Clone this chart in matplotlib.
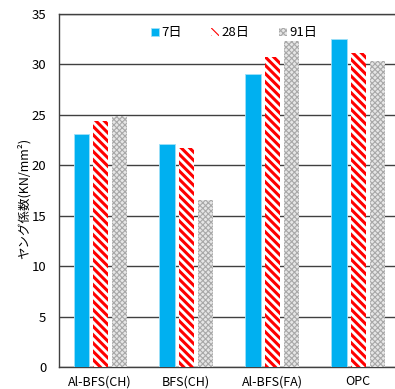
import matplotlib
matplotlib.use("Agg")
import matplotlib.pyplot as plt
import numpy as np

plt.rcParams['font.family'] = ['Noto Sans CJK JP', 'DejaVu Sans']
plt.rcParams['hatch.linewidth'] = 2.2

categories = ["Al-BFS(CH)", "BFS(CH)", "Al-BFS(FA)", "OPC"]
series_names = ["7日", "28日", "91日"]
day7 = [23.1, 22.1, 29.0, 32.5]
day28 = [24.4, 21.7, 30.7, 31.1]
day91 = [24.9, 16.5, 32.3, 30.3]
yticks = [0, 5, 10, 15, 20, 25, 30, 35]

fig = plt.figure(figsize=(3.95, 3.89), dpi=100)
ax = fig.add_axes([0.149, 0.0566, 0.862, 0.908])

x = np.arange(len(categories))
w = 0.175
step = 0.222

ax.bar(x - step, day7, w, color='#00b0f0', edgecolor='#9fe0f8', linewidth=0.6,
       label=series_names[0], zorder=3)
ax.bar(x, day28, w, facecolor='white', edgecolor='#ff0000', linewidth=0,
       hatch='\\\\\\\\', label=series_names[1], zorder=3)
plt.rcParams['hatch.linewidth'] = 0.8
ax.bar(x + step, day91, w, facecolor='#e6e6e6', edgecolor='#a8a8a8', linewidth=0,
       hatch='xxxxxx', label=series_names[2], zorder=3)

ax.set_xlim(-0.48, 3.48)
ax.set_ylim(0, 35)
ax.set_yticks(yticks)
ax.yaxis.grid(True, color='#404040', linewidth=1.0, zorder=1)
ax.set_axisbelow(True)
ax.set_xticks(x)
ax.set_xticklabels(categories, fontsize=9)
ax.tick_params(axis='both', length=0, labelsize=9.5, colors='#000000')
ax.tick_params(axis='x', labelsize=9, pad=6)
ax.tick_params(axis='y', pad=9)
for s in ['left', 'bottom', 'top']:
    ax.spines[s].set_color('#404040')
    ax.spines[s].set_linewidth(1.0)
ax.spines['right'].set_visible(False)

ax.set_ylabel("ヤング係数(KN/mm²)", fontsize=9, labelpad=1, y=0.476)

ax.legend(loc='upper center', bbox_to_anchor=(0.515, 0.998), ncol=3, frameon=False,
          fontsize=9.5, handlelength=0.6, handleheight=0.6, handletextpad=0.2,
          columnspacing=2.2)

fig.savefig("out.png", dpi=100)
